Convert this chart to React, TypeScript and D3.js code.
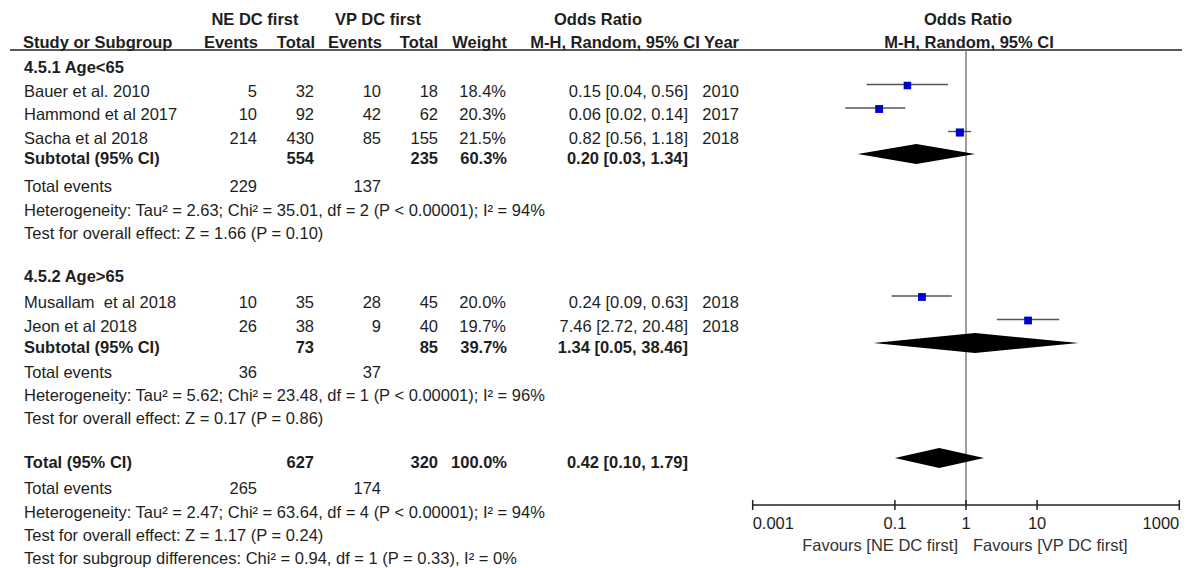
import React from "react";
import * as d3 from "d3";

// ---------- data ----------
const groupTitles = ["4.5.1 Age<65", "4.5.2 Age>65"];
const studies = ["Bauer et al. 2010", "Hammond et al 2017", "Sacha et al 2018", "Musallam  et al 2018", "Jeon et al 2018"];
const neEvents = [5, 10, 214, 10, 26];
const neTotal = [32, 92, 430, 35, 38];
const vpEvents = [10, 42, 85, 28, 9];
const vpTotal = [18, 62, 155, 45, 40];
const weights = [18.4, 20.3, 21.5, 20.0, 19.7];
const orVals = [0.15, 0.06, 0.82, 0.24, 7.46];
const orLo = [0.04, 0.02, 0.56, 0.09, 2.72];
const orHi = [0.56, 0.14, 1.18, 0.63, 20.48];
const years = [2010, 2017, 2018, 2018, 2018];

// subtotals (group 1, group 2), then overall total
const subNeTotal = [554, 73, 627];
const subVpTotal = [235, 85, 320];
const subWeight = ["60.3%", "39.7%", "100.0%"];
const subOr = [0.2, 1.34, 0.42];
const subLo = [0.03, 0.05, 0.1];
const subHi = [1.34, 38.46, 1.79];
const subNeEvents = [229, 36, 265];
const subVpEvents = [137, 37, 174];
const heterogeneity = [
  "Heterogeneity: Tau² = 2.63; Chi² = 35.01, df = 2 (P < 0.00001); I² = 94%",
  "Heterogeneity: Tau² = 5.62; Chi² = 23.48, df = 1 (P < 0.00001); I² = 96%",
  "Heterogeneity: Tau² = 2.47; Chi² = 63.64, df = 4 (P < 0.00001); I² = 94%",
];
const overallEffect = [
  "Test for overall effect: Z = 1.66 (P = 0.10)",
  "Test for overall effect: Z = 0.17 (P = 0.86)",
  "Test for overall effect: Z = 1.17 (P = 0.24)",
];
const subgroupTest = "Test for subgroup differences: Chi² = 0.94, df = 1 (P = 0.33), I² = 0%";
const axisTicks = [0.001, 0.1, 1, 10, 1000];
const axisTickLabels = ["0.001", "0.1", "1", "10", "1000"];
const favoursLeft = "Favours [NE DC first]";
const favoursRight = "Favours [VP DC first]";

// ---------- layout ----------
const W = 1189;
const H = 568;
const FONT = "'Liberation Sans', Arial, Helvetica, sans-serif";
const FS = 16.5;
const TXT = "#1e1e1e";

const colX = { name: 24, neE: 257, neT: 314, vpE: 381, vpT: 438, w: 506, ci: 688, year: 739 };

// baselines of rows
const rowY = {
  head1: 25,
  head2: 48,
  groupTitle: [72.5, 282],
  study: [96.5, 120, 143.5, 308, 331.5],
  subtotal: [164, 353, 468],
  totalEvents: [191.5, 378, 494],
  het: [215.5, 401, 517.5],
  effect: [239, 424, 540.5],
  subgroup: 563.5,
};

const x = d3.scaleLog().domain([0.001, 1000]).range([752.7, 1179.3]);
const sq = d3.scaleSqrt().domain([0, 100]).range([0, 17.5]);
const axisY = 505;
const headerLineY = 50;

const fmt2 = d3.format(".2f");
const ciText = (o: number, l: number, h: number) => `${fmt2(o)} [${fmt2(l)}, ${fmt2(h)}]`;

function T(props: any) {
  const { x, y, anchor = "start", bold = false, children, fill = TXT, size = FS } = props;
  return (
    <text
      x={x}
      y={y}
      textAnchor={anchor}
      fontWeight={bold ? "bold" : "normal"}
      fill={fill}
      fontSize={size}
      fontFamily={FONT}
      style={{ whiteSpace: "pre" }}
    >
      {children}
    </text>
  );
}

export default function App() {
  const diamond = (o: number, l: number, h: number, cy: number) => {
    const hh = 10;
    const pts: [number, number][] = [
      [x(l), cy],
      [x(o), cy - hh],
      [x(h), cy],
      [x(o), cy + hh],
    ];
    return d3.line()(pts.concat([pts[0]])) as string;
  };

  return (
    <svg width={W} height={H} style={{ position: "absolute", left: 0, top: 0, background: "#fff" }}>
      <rect x={0} y={0} width={W} height={H} fill="#fff" />
      {/* headers */}
      <T x={255} y={rowY.head1} anchor="middle" bold>NE DC first</T>
      <T x={378} y={rowY.head1} anchor="middle" bold>VP DC first</T>
      <T x={598} y={rowY.head1} anchor="middle" bold>Odds Ratio</T>
      <T x={968} y={rowY.head1} anchor="middle" bold>Odds Ratio</T>
      <T x={23} y={rowY.head2} bold>Study or Subgroup</T>
      <T x={colX.neE + 1} y={rowY.head2} anchor="end" bold>Events</T>
      <T x={colX.neT + 1} y={rowY.head2} anchor="end" bold>Total</T>
      <T x={colX.vpE + 1} y={rowY.head2} anchor="end" bold>Events</T>
      <T x={colX.vpT} y={rowY.head2} anchor="end" bold>Total</T>
      <T x={colX.w + 1} y={rowY.head2} anchor="end" bold>Weight</T>
      <T x={colX.year} y={rowY.head2} anchor="end" bold>M-H, Random, 95% CI Year</T>
      <T x={969} y={rowY.head2} anchor="middle" bold>M-H, Random, 95% CI</T>
      <line x1={10} x2={1182} y1={headerLineY} y2={headerLineY} stroke="#222" strokeWidth={1.5} />

      {/* group titles */}
      {groupTitles.map((g, i) => (
        <T key={g} x={colX.name} y={rowY.groupTitle[i]} bold>{g}</T>
      ))}

      {/* null line */}
      <line x1={x(1)} x2={x(1)} y1={headerLineY} y2={axisY} stroke="#777" strokeWidth={1.4} />

      {/* study rows */}
      {studies.map((s, i) => {
        const y = rowY.study[i];
        const my = y - 12;
        const size = sq(weights[i]);
        return (
          <g key={s}>
            <T x={colX.name} y={y}>{s}</T>
            <T x={colX.neE} y={y} anchor="end">{neEvents[i]}</T>
            <T x={colX.neT} y={y} anchor="end">{neTotal[i]}</T>
            <T x={colX.vpE} y={y} anchor="end">{vpEvents[i]}</T>
            <T x={colX.vpT} y={y} anchor="end">{vpTotal[i]}</T>
            <T x={colX.w} y={y} anchor="end">{weights[i].toFixed(1) + "%"}</T>
            <T x={colX.ci} y={y} anchor="end">{ciText(orVals[i], orLo[i], orHi[i])}</T>
            <T x={colX.year} y={y} anchor="end">{years[i]}</T>
            <line x1={x(orLo[i])} x2={x(orHi[i])} y1={my} y2={my} stroke="#555" strokeWidth={1.4} />
            <rect x={x(orVals[i]) - size / 2} y={my + 1 - size / 2} width={size} height={size} fill="#0000CC" />
          </g>
        );
      })}

      {/* subtotal / total rows */}
      {subNeTotal.map((n, i) => {
        const y = rowY.subtotal[i];
        return (
          <g key={"sub" + i}>
            <T x={colX.name} y={y} bold>{i < 2 ? "Subtotal (95% CI)" : "Total (95% CI)"}</T>
            <T x={colX.neT} y={y} anchor="end" bold>{n}</T>
            <T x={colX.vpT} y={y} anchor="end" bold>{subVpTotal[i]}</T>
            <T x={colX.w + 1} y={y} anchor="end" bold>{subWeight[i]}</T>
            <T x={colX.ci} y={y} anchor="end" bold>{ciText(subOr[i], subLo[i], subHi[i])}</T>
            <path d={diamond(subOr[i], subLo[i], subHi[i], y - 10)} fill="#000" />
            <T x={colX.name} y={rowY.totalEvents[i]}>Total events</T>
            <T x={colX.neE} y={rowY.totalEvents[i]} anchor="end">{subNeEvents[i]}</T>
            <T x={colX.vpE} y={rowY.totalEvents[i]} anchor="end">{subVpEvents[i]}</T>
            <T x={colX.name} y={rowY.het[i]}>{heterogeneity[i]}</T>
            <T x={colX.name} y={rowY.effect[i]}>{overallEffect[i]}</T>
          </g>
        );
      })}
      <T x={colX.name} y={rowY.subgroup}>{subgroupTest}</T>

      {/* axis */}
      <line x1={x(0.001)} x2={x(1000)} y1={axisY} y2={axisY} stroke="#222" strokeWidth={1.5} />
      {axisTicks.map((t, i) => (
        <g key={t}>
          <line x1={x(t)} x2={x(t)} y1={axisY - 5} y2={axisY + 5} stroke="#222" strokeWidth={1.5} />
          <T x={x(t)} y={529} anchor={i === 0 ? "start" : i === axisTicks.length - 1 ? "end" : "middle"}>
            {axisTickLabels[i]}
          </T>
        </g>
      ))}
      <T x={x(1) - 8} y={551} anchor="end" fill="#333">{favoursLeft}</T>
      <T x={x(1) + 7} y={551} anchor="start" fill="#333">{favoursRight}</T>
    </svg>
  );
}
